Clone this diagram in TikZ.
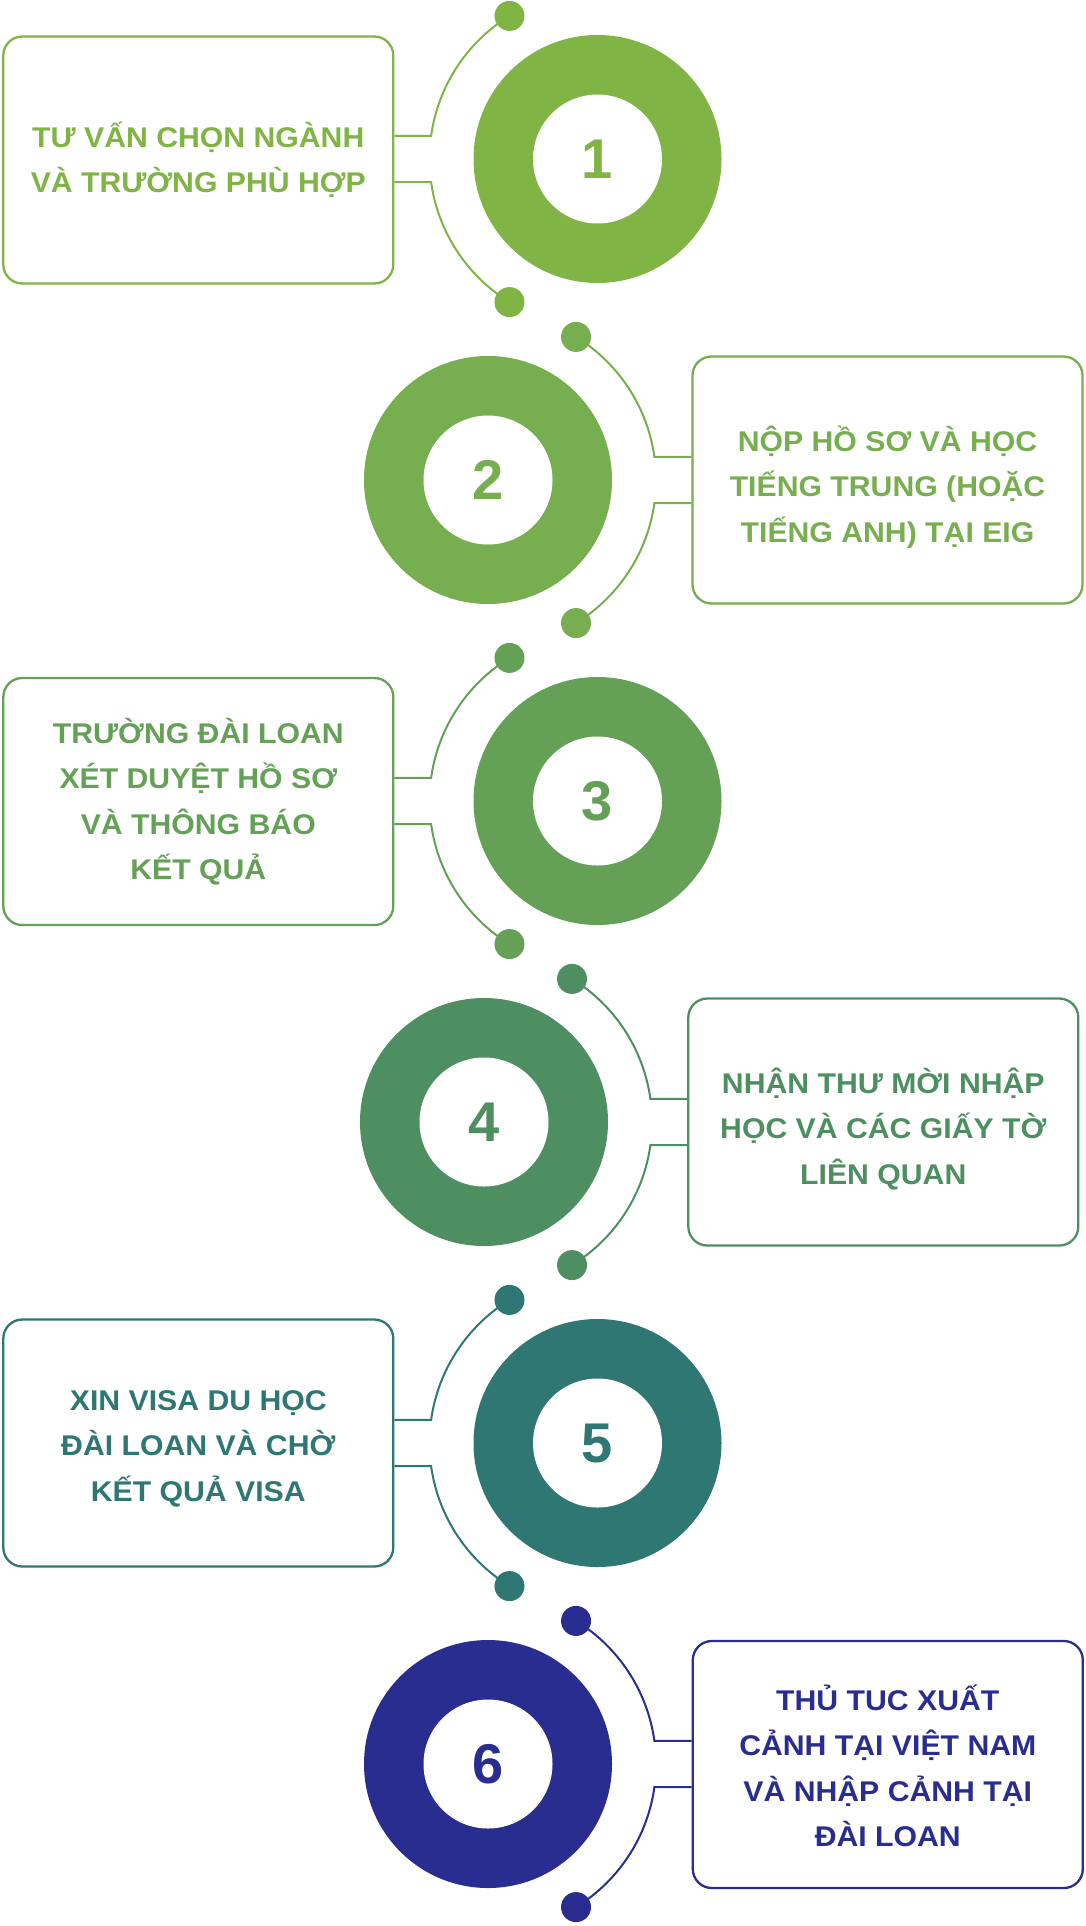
\documentclass[tikz,border=0pt]{standalone}
\usepackage{fontspec}
\setmainfont{Liberation Sans}
\newfontfamily\boxfont{Liberation Sans}[FakeStretch=1.06]
\usetikzlibrary{calc,backgrounds}
\definecolor{cA}{HTML}{80B546}
\definecolor{cB}{HTML}{77AE4F}
\definecolor{cC}{HTML}{64A157}
\definecolor{cD}{HTML}{4E8F62}
\definecolor{cE}{HTML}{2E7773}
\definecolor{cF}{HTML}{282D8F}
\begin{document}
\begin{tikzpicture}[x=1pt,y=-1pt,
  box/.style={draw=#1, text=#1, line width=2.3pt, rounded corners=19pt,
    minimum width=390pt, minimum height=247pt, inner sep=0pt, align=center,
    font=\boxfont\fontsize{28.5}{45.5}\selectfont\bfseries, text depth=0pt},
  two/.style={text height=65.5pt},
  three/.style={text height=111pt},
  threelow/.style={text height=124pt},
  four/.style={text height=156.5pt},
  fourlow/.style={text height=164pt},
  ring/.style={circle, fill=#1, minimum size=248pt, inner sep=0pt},
  hole/.style={circle, fill=white, text=#1, minimum size=129pt, inner sep=0pt,
    font=\fontsize{56}{56}\selectfont\bfseries},
  dotn/.style={circle, fill=#1, minimum size=30pt, inner sep=0pt},
  conn/.style={draw=#1, line width=2pt},
]
\useasboundingbox (0,0) rectangle (1085,1926);

% ---------- row 1 ----------
\node[ring=cA] (r1) at (597.5,159) {};
\node[hole=cA] (n1) at (r1) {1};
\node[box=cA, two] (b1) at (198.3,160) {TƯ VẤN CHỌN NGÀNH\\VÀ TRƯỜNG PHÙ HỢP};
\coordinate (p1t) at ($(r1)+(238.4:168)$);
\coordinate (p1b) at ($(r1)+(121.6:168)$);
\coordinate (a1t) at ($(r1)+(187.9:168)$);
\coordinate (a1b) at ($(r1)+(172.1:168)$);
\draw[conn=cA] (p1t) arc[start angle=238.4, end angle=187.9, radius=168] -- (a1t -| b1.east);
\draw[conn=cA] (p1b) arc[start angle=121.6, end angle=172.1, radius=168] -- (a1b -| b1.east);
\node[dotn=cA] (d1t) at (p1t) {};
\node[dotn=cA] (d1b) at (p1b) {};

% ---------- row 2 ----------
\node[ring=cB] (r2) at (488,480) {};
\node[hole=cB] (n2) at (r2) {2};
\node[box=cB, threelow] (b2) at (887.5,480) {NỘP HỒ SƠ VÀ HỌC\\TIẾNG TRUNG (HOẶC\\TIẾNG ANH) TẠI EIG};
\coordinate (p2t) at ($(r2)+(-58.4:168)$);
\coordinate (p2b) at ($(r2)+(58.4:168)$);
\coordinate (a2t) at ($(r2)+(-7.9:168)$);
\coordinate (a2b) at ($(r2)+(7.9:168)$);
\draw[conn=cB] (p2t) arc[start angle=-58.4, end angle=-7.9, radius=168] -- (a2t -| b2.west);
\draw[conn=cB] (p2b) arc[start angle=58.4, end angle=7.9, radius=168] -- (a2b -| b2.west);
\node[dotn=cB] (d2t) at (p2t) {};
\node[dotn=cB] (d2b) at (p2b) {};

% ---------- row 3 ----------
\node[ring=cC] (r3) at (597.5,801) {};
\node[hole=cC] (n3) at (r3) {3};
\node[box=cC, four] (b3) at (198.3,801.5) {TRƯỜNG ĐÀI LOAN\\XÉT DUYỆT HỒ SƠ\\VÀ THÔNG BÁO\\KẾT QUẢ};
\coordinate (p3t) at ($(r3)+(238.4:168)$);
\coordinate (p3b) at ($(r3)+(121.6:168)$);
\coordinate (a3t) at ($(r3)+(187.9:168)$);
\coordinate (a3b) at ($(r3)+(172.1:168)$);
\draw[conn=cC] (p3t) arc[start angle=238.4, end angle=187.9, radius=168] -- (a3t -| b3.east);
\draw[conn=cC] (p3b) arc[start angle=121.6, end angle=172.1, radius=168] -- (a3b -| b3.east);
\node[dotn=cC] (d3t) at (p3t) {};
\node[dotn=cC] (d3b) at (p3b) {};

% ---------- row 4 ----------
\node[ring=cD] (r4) at (484,1122) {};
\node[hole=cD] (n4) at (r4) {4};
\node[box=cD, threelow] (b4) at (883.3,1122) {NHẬN THƯ MỜI NHẬP\\HỌC VÀ CÁC GIẤY TỜ\\LIÊN QUAN};
\coordinate (p4t) at ($(r4)+(-58.4:168)$);
\coordinate (p4b) at ($(r4)+(58.4:168)$);
\coordinate (a4t) at ($(r4)+(-7.9:168)$);
\coordinate (a4b) at ($(r4)+(7.9:168)$);
\draw[conn=cD] (p4t) arc[start angle=-58.4, end angle=-7.9, radius=168] -- (a4t -| b4.west);
\draw[conn=cD] (p4b) arc[start angle=58.4, end angle=7.9, radius=168] -- (a4b -| b4.west);
\node[dotn=cD] (d4t) at (p4t) {};
\node[dotn=cD] (d4b) at (p4b) {};

% ---------- row 5 ----------
\node[ring=cE] (r5) at (597.5,1443) {};
\node[hole=cE] (n5) at (r5) {5};
\node[box=cE, three, text height=116pt] (b5) at (198.3,1443) {XIN VISA DU HỌC\\ĐÀI LOAN VÀ CHỜ\\KẾT QUẢ VISA};
\coordinate (p5t) at ($(r5)+(238.4:168)$);
\coordinate (p5b) at ($(r5)+(121.6:168)$);
\coordinate (a5t) at ($(r5)+(187.9:168)$);
\coordinate (a5b) at ($(r5)+(172.1:168)$);
\draw[conn=cE] (p5t) arc[start angle=238.4, end angle=187.9, radius=168] -- (a5t -| b5.east);
\draw[conn=cE] (p5b) arc[start angle=121.6, end angle=172.1, radius=168] -- (a5b -| b5.east);
\node[dotn=cE] (d5t) at (p5t) {};
\node[dotn=cE] (d5b) at (p5b) {};

% ---------- row 6 ----------
\node[ring=cF] (r6) at (488,1764) {};
\node[hole=cF] (n6) at (r6) {6};
\node[box=cF, fourlow] (b6) at (887.8,1764.5) {THỦ TUC XUẤT\\CẢNH TẠI VIỆT NAM\\VÀ NHẬP CẢNH TẠI\\ĐÀI LOAN};
\coordinate (p6t) at ($(r6)+(-58.4:168)$);
\coordinate (p6b) at ($(r6)+(58.4:168)$);
\coordinate (a6t) at ($(r6)+(-7.9:168)$);
\coordinate (a6b) at ($(r6)+(7.9:168)$);
\draw[conn=cF] (p6t) arc[start angle=-58.4, end angle=-7.9, radius=168] -- (a6t -| b6.west);
\draw[conn=cF] (p6b) arc[start angle=58.4, end angle=7.9, radius=168] -- (a6b -| b6.west);
\node[dotn=cF] (d6t) at (p6t) {};
\node[dotn=cF] (d6b) at (p6b) {};
\end{tikzpicture}
\end{document}
